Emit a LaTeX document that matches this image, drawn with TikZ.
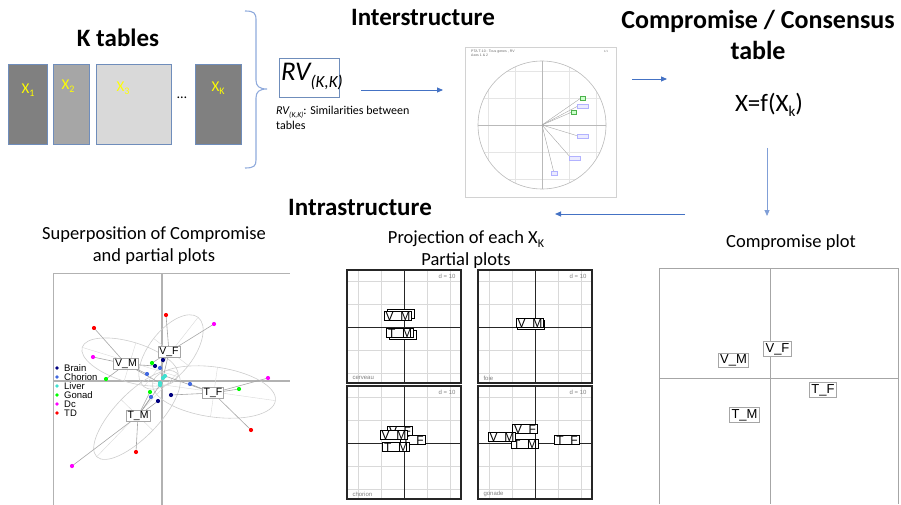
\documentclass[tikz,border=0pt]{standalone}
\usepackage{fontspec}
\setmainfont{Carlito}
\newfontfamily\arialf{Liberation Sans}
\usetikzlibrary{arrows.meta,calc}
\definecolor{arrowblue}{HTML}{4472C4}
\definecolor{tblborder}{HTML}{6F8DBB}
\definecolor{bracecol}{HTML}{8FAADC}
\definecolor{xyellow}{HTML}{FFFF00}
\definecolor{cBrain}{HTML}{000080}
\definecolor{cChorion}{HTML}{4169E1}
\definecolor{cLiver}{HTML}{40E0D0}
\definecolor{cGonad}{HTML}{00FF00}
\definecolor{cDc}{HTML}{FF00FF}
\definecolor{cTD}{HTML}{FF0000}
\begin{document}
\begin{tikzpicture}[x=1pt,y=-1pt,
  arr/.style={draw=arrowblue, line width=0.9, -{Triangle[length=6,width=5]}},
  tbl/.style={draw=tblborder, line width=0.8},
  title/.style={font=\bfseries\fontsize{25}{30}\selectfont, align=center},
  lbl/.style={font=\fontsize{18.5}{22}\selectfont, align=center},
  xlab/.style={text=xyellow, font=\fontsize{15}{16}\selectfont},
  cbox/.style={draw=gray!70, line width=0.8, fill=white, inner xsep=2, inner ysep=1.5, font=\arialf\fontsize{13}{14}\selectfont},
  sbox/.style={draw=gray!70, line width=0.7, fill=white, inner xsep=1.5, inner ysep=1, font=\arialf\fontsize{10.5}{11}\selectfont},
  pbox/.style={draw=black, line width=1.1, fill=white, inner xsep=1.5, inner ysep=0.8, font=\arialf\fontsize{12}{12}\selectfont},
  pgrid/.style={draw=gray!30, line width=1},
  paxis/.style={draw=black!85, line width=1},
  pframe/.style={draw=black!85, line width=1.2},
  ptag/.style={text=gray, font=\arialf\fontsize{6}{6}\selectfont},
  axisg/.style={draw=gray!60, line width=1.2},
  ell/.style={draw=gray!40, line width=0.6},
  link/.style={draw=gray!70, line width=0.6},
  leg/.style={font=\arialf\fontsize{9.5}{10}\selectfont, anchor=west, inner sep=0},
  ibox/.style={draw=blue!30, fill=blue!8, line width=0.25, inner sep=0, minimum height=3.5},
  gbox/.style={draw=green!40!gray, fill=green!20, line width=0.25, inner sep=0, minimum height=3.5, minimum width=5}
]
\useasboundingbox (0,0) rectangle (901,505);

% ---------- K tables ----------
\node[title] (ktitle) at (118,38) {K tables};
\node[tbl, fill=black!50, minimum width=39, minimum height=80] (t1) at (27.5,104.5) {};
\node[tbl, fill=black!35, minimum width=36, minimum height=80] (t2) at (71,104) {};
\node[tbl, fill=black!15, minimum width=75, minimum height=80] (t3) at (133.5,104) {};
\node[tbl, fill=black!50, minimum width=46, minimum height=80] (tk) at (218,104) {};
\node[xlab] (l1) at (28,90) {X\raisebox{-3.5pt}{\fontsize{10}{10}\selectfont 1}};
\node[xlab] (l2) at (68,86) {X\raisebox{-3.5pt}{\fontsize{10}{10}\selectfont 2}};
\node[xlab] (l3) at (123,88) {X\raisebox{-3.5pt}{\fontsize{10}{10}\selectfont 3}};
\node[xlab] (lk) at (218,88) {X\raisebox{-3.5pt}{\fontsize{10}{10}\selectfont K}};
\node[font=\fontsize{14}{14}\selectfont] (dots) at (182,98) {\dots};

% brace
\draw[bracecol, line width=1.1] (245,11) .. controls (254,11) and (256,13) .. (256,20)
  -- (256,80) .. controls (256,86) and (259,89) .. (267,89)
  .. controls (259,89) and (256,92) .. (256,98) -- (256,160)
  .. controls (256,166) and (254,168) .. (245,168);

% ---------- RV ----------
\node[tbl, minimum width=60, minimum height=39] (rvbox) at (309.5,78) {};
\node[font=\itshape\fontsize{27}{28}\selectfont, anchor=west, inner sep=0] (rv) at (281,77)
  {RV\raisebox{-7pt}{\fontsize{17}{17}\selectfont (K,K)}};
\node[font=\fontsize{12}{14.5}\selectfont, align=left, anchor=north west, inner sep=0] (rvnote) at (276,106)
  {{\itshape RV\raisebox{-2.5pt}{\fontsize{7.5}{8}\selectfont (K,K)}}: Similarities between\\tables};
\coordinate (a1s) at (361,90);
\coordinate (a1e) at (443,90);
\draw[arr] (a1s) -- (a1e);

% ---------- Interstructure ----------
\node[title] (inter) at (423,17) {Interstructure};
\node[draw=gray!35, line width=0.8, minimum width=151, minimum height=150] (interimg) at (540.5,122) {};
\node[font=\arialf\fontsize{3.5}{4}\selectfont, anchor=west, align=left, inner sep=0, text=black!60] (ihead) at (471,53) {PTA T-10 : Tous genes , RV\\Axes 1 \& 2};
\node[font=\arialf\fontsize{3}{3}\selectfont, inner sep=0, text=gray] (ipage) at (606,51) {1/1};
\coordinate (ic) at (542,125);
\begin{scope}
  \clip (ic) circle (64);
  \foreach \g in {-54,-27,27,54}{
    \draw[gray!20, line width=0.5] ($(ic)+(\g,-70)$) -- ($(ic)+(\g,70)$);
    \draw[gray!20, line width=0.5] ($(ic)+(-70,\g)$) -- ($(ic)+(70,\g)$);
  }
\end{scope}
\draw[gray!55, line width=0.6] (ic) circle (64);
\draw[gray!55, line width=0.6] (478,125) -- (606,125);
\draw[gray!55, line width=0.6] (542,61) -- (542,189);
\foreach \p in {(581,98),(578,106),(572,112),(578,136),(571,158),(554,173)}
  \draw[gray!70, line width=0.4] (ic) -- \p;
\node[gbox, anchor=west] (iv1) at (580,98) {};
\node[ibox, minimum width=11, anchor=west] (iv2) at (577,106) {};
\node[gbox, anchor=west] (iv3) at (571,112) {};
\node[ibox, minimum width=11, anchor=west] (iv4) at (577,136) {};
\node[ibox, minimum width=11, anchor=west] (iv5) at (569,158) {};
\node[ibox, minimum width=6, anchor=west] (iv6) at (551,173) {};
\coordinate (a2s) at (632,79);
\coordinate (a2e) at (667,79);
\draw[arr] (a2s) -- (a2e);

% ---------- Compromise ----------
\node[title, font=\bfseries\fontsize{26}{31}\selectfont] (comp) at (758,35) {Compromise / Consensus\\table};
\node[font=\fontsize{25}{28}\selectfont] (xf) at (769,105) {X=f(X\raisebox{-5pt}{\fontsize{15}{15}\selectfont k})};
\coordinate (a3s) at (767,148);
\coordinate (a3e) at (767,216);
\draw[arr, draw=bracecol!80!arrowblue] (a3s) -- (a3e);
\coordinate (a4s) at (685,214);
\coordinate (a4e) at (555,214);
\draw[arr] (a4s) -- (a4e);
\node[lbl] (cplot) at (791,243) {Compromise plot};

% compromise plot
\draw[gray!70, line width=0.8] (659,504) -- (659,268) -- (898,268) -- (898,504);
\draw[gray!70, line width=1] (770,268) -- (770,504);
\draw[gray!70, line width=1] (659,378) -- (898,378);
\node[cbox] (cvf) at (777.5,349) {V\_F};
\node[cbox] (cvm) at (733.5,360.5) {V\_M};
\node[cbox] (ctf) at (823,390) {T\_F};
\node[cbox] (ctm) at (744.5,415) {T\_M};

% ---------- Intrastructure ----------
\node[title] (intra) at (360,207) {Intrastructure};
\node[lbl] (proj) at (466,250) {Projection of each X\raisebox{-4pt}{\fontsize{12}{12}\selectfont K}\\Partial plots};

% partial plot panels
\foreach \ox/\oy/\nm in {347/270/cerveau, 478/270/foie, 347/386/chorion, 478/386/gonade}{
  \begin{scope}[shift={(\ox,\oy)}]
    \foreach \g in {11,34,80,103}{
      \draw[pgrid] (\g,0) -- (\g,113);
      \draw[pgrid] (0,\g) -- (114,\g);
    }
    \draw[paxis] (57,0) -- (57,113);
    \draw[paxis] (0,57) -- (114,57);
    \draw[pframe] (0,0) rectangle (114,113);
    \draw[black!85, line width=1.6] (0,113) -- (114,113);
    \node[ptag, anchor=east] (dd) at (112,6) {d = 10};
    \node[ptag, anchor=west] (nn) at (2,108) {\nm};
  \end{scope}
}
% panel: cerveau
\node[pbox] (p1vmb) at (401,314) {\phantom{V\ \ M}};
\node[pbox] (p1vm) at (398,316) {V\ \ M};
\node[pbox] (p1tmb) at (403,335) {\phantom{T\ \ M}};
\node[pbox] (p1tm) at (400,333) {T\ \ M};
% panel: foie
\node[pbox] (p2vmb) at (531,325) {\phantom{V\ \ M}};
\node[pbox] (p2vm) at (530,323) {V\ \ M};
% panel: chorion
\node[pbox] (p3vf) at (400,431) {V\ \ F};
\node[pbox] (p3tf) at (413,440) {T\ \ F};
\node[pbox] (p3tm) at (396,447) {T\ \ M};
\node[pbox] (p3vm) at (394,435) {V\ \ M};
% panel: gonade
\node[pbox] (p4tm) at (525,444) {T\ \ M};
\node[pbox] (p4vf) at (525,429) {V\ \ F};
\node[pbox] (p4vm) at (502,437) {V\ \ M};
\node[pbox] (p4tf) at (567,440) {T\ \ F};

% ---------- Superposition ----------
\node[lbl] (sup) at (154,246) {Superposition of Compromise\\and partial plots};
\draw[gray!60, line width=1] (53,505) -- (53,273) -- (290,273);
\draw[axisg] (162,273) -- (162,505);
\draw[axisg] (53,381) -- (290,381);

% ellipses with their axes
\foreach \cx/\cy/\ang/\ra/\rb in {130/362/-17/50/20, 171/352/52/44/22, 214/392/-8/62/25, 137/415/46/58/22}{
  \begin{scope}[shift={(\cx,\cy)}, rotate=\ang]
    \draw[ell] (0,0) ellipse [x radius=\ra, y radius=\rb];
    \draw[gray!30, line width=0.4] (-\ra,0) -- (\ra,0);
    \draw[gray!30, line width=0.4] (0,-\rb) -- (0,\rb);
  \end{scope}
}

\coordinate (svm) at (126,364);
\coordinate (svf) at (169,352);
\coordinate (stf) at (213,393);
\coordinate (stm) at (138,416);
% links and points
\foreach \cc/\pts in {svm/{(155,366)/cBrain,(147,374)/cChorion,(160,383)/cLiver,(106,379)/cGonad,(93,357)/cDc,(94,328)/cTD},
                     svf/{(163,360)/cBrain,(160,368)/cChorion,(163,378)/cLiver,(152,363)/cGonad,(214,324)/cDc,(166,315)/cTD},
                     stf/{(171,395)/cBrain,(190,384)/cChorion,(165,376)/cLiver,(239,389)/cGonad,(268,378)/cDc,(251,430)/cTD},
                     stm/{(158,401)/cBrain,(151,397)/cChorion,(160,385)/cLiver,(150,392)/cGonad,(72,466)/cDc,(136,452)/cTD}}{
  \foreach \p/\col in \pts {
    \draw[link] (\cc) -- \p;
  }
}
\foreach \cc/\pts in {svm/{(155,366)/cBrain,(147,374)/cChorion,(160,383)/cLiver,(106,379)/cGonad,(93,357)/cDc,(94,328)/cTD},
                     svf/{(163,360)/cBrain,(160,368)/cChorion,(163,378)/cLiver,(152,363)/cGonad,(214,324)/cDc,(166,315)/cTD},
                     stf/{(171,395)/cBrain,(190,384)/cChorion,(165,376)/cLiver,(239,389)/cGonad,(268,378)/cDc,(251,430)/cTD},
                     stm/{(158,401)/cBrain,(151,397)/cChorion,(160,385)/cLiver,(150,392)/cGonad,(72,466)/cDc,(136,452)/cTD}}{
  \foreach \p/\col in \pts {
    \fill[\col] \p circle (2.1);
  }
}
\node[sbox] (bvm) at (svm) {V\_M};
\node[sbox] (bvf) at (svf) {V\_F};
\node[sbox] (btf) at (stf) {T\_F};
\node[sbox] (btm) at (stm) {T\_M};

% legend
\foreach \i/\txt/\col in {0/Brain/cBrain,1/Chorion/cChorion,2/Liver/cLiver,3/Gonad/cGonad,4/Dc/cDc,5/TD/cTD}{
  \fill[\col] (57,368+9*\i) circle (1.9);
  \node[leg] (leg\i) at (64,368+9*\i) {\txt};
}
\end{tikzpicture}
\end{document}
